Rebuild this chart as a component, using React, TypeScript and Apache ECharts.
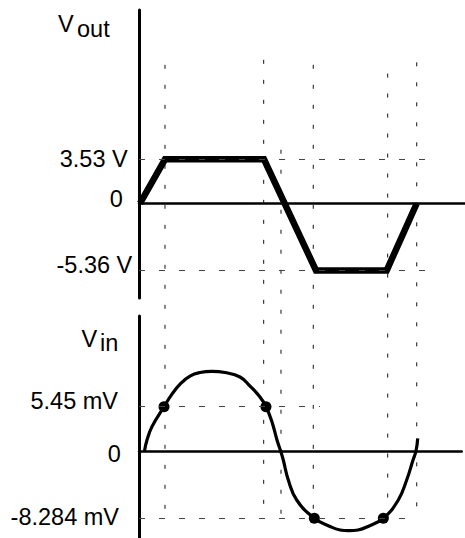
import React, { useEffect, useRef } from 'react';
import * as echarts from 'echarts';

const FONT = '"Liberation Sans", Arial, Helvetica, sans-serif';

// x axis: phase of the input signal, degrees
const phaseMin = -6.6;
const phaseMaxTop = 424.8;
const phaseMaxBottom = 420.4;

// ---- V_out panel (volts) ----
const voutRange = [-7.57, 15.49];
const voutPhase = [-5.3, 27.8, 158.8, 227.6, 321.2, 360.9];
const voutVolts = [0, 3.53, 3.53, -5.36, -5.36, 0];
const voutTicks = [3.53, 0, -5.36];
const voutTickLabels = ['3.53 V', '0', '-5.36 V'];
const voutLevels = [3.53, -5.36];
const voutLevelEnds = [387.7, 387.7];

// ---- V_in panel (mV) ----
const vinRange = [-10.71, 16.62];
const vinPhase = [
  0.7, 3.97, 10.59, 26.47, 37.05, 48.96, 60.87, 74.1, 89.98, 107.19, 127.03,
  140.27, 153.5, 161.44, 168.98, 176.0, 180.8, 184.33, 190.95, 202.06, 225.35,
  246.13, 259.36, 271.27, 283.19, 296.42, 316.66, 336.5, 347.6, 356.0, 359.93, 362.18,
];
const vinMilliVolts = [
  0, 1.35, 3.0, 5.45, 7.0, 8.35, 9.23, 9.66, 9.81, 9.66, 9.11,
  8.0, 6.65, 5.45, 3.69, 1.35, 0, -1.11, -3.57, -6.03, -8.284,
  -9.29, -9.72, -9.81, -9.72, -9.29, -8.284, -6.03, -3.57, -1.11, 0, 1.56,
];
const vinTicks = [5.45, 0, -8.284];
const vinTickLabels = ['5.45 mV', '0', '-8.284 mV'];
const vinLevels = [5.45, -8.284];
const vinLevelEnds = [232.9, 360.9];
const dotPhase = [26.5, 161.4, 225.4, 316.7];
const dotMilliVolts = [5.45, 5.45, -8.284, -8.284];

// ---- vertical guide lines (phase, top in V_out volts, bottom in V_in mV) ----
const guidePhase = [27.8, 158.4, 181.3, 224.0, 322.5, 360.9];
const guideTopVolts = [11.1, 11.5, 4.3, 11.1, 10.4, 11.3];
const guideBottomMilliVolts = [-8.284, -8.284, -8.9, -8.284, -8.284, -8.284];

const topPad = [
  [0, 5.3, 0, 0],
  [0, 10.3, 8.6, 0],
  [0, 0.7, 10.4, 0],
];
const bottomPad = [
  [0, 15, 10.8, 0],
  [6, 12.3, 0, 0],
  [0, 14, 3.2, 0],
];

function makeLabel(ticks: number[], labels: string[], pads: number[][], prefix: string) {
  const rich: Record<string, any> = {};
  pads.forEach((p, i) => {
    rich[prefix + i] = {
      fontFamily: FONT,
      fontSize: 23.5,
      color: '#000',
      padding: p,
    };
  });
  return {
    show: true,
    customValues: ticks,
    margin: 6,
    formatter: (val: number) => {
      const i = ticks.findIndex((t) => Math.abs(t - val) < 1e-6);
      return i < 0 ? '' : `{${prefix}${i}|${labels[i]}}`;
    },
    rich,
  };
}

export default function App() {
  const ref = useRef<HTMLDivElement>(null);

  useEffect(() => {
    if (!ref.current) return;
    const chart = echarts.init(ref.current, undefined, { renderer: 'svg' });

    const hDash = { type: [6, 14] as any, color: '#444', width: 1 };

    const option: any = {
      animation: false,
      backgroundColor: '#fff',
      grid: [
        { left: 139, top: 10, width: 326, height: 288 },
        { left: 139, top: 316, width: 322.7, height: 222 },
      ],
      xAxis: [0, 1].map((g) => ({
        type: 'value',
        gridIndex: g,
        min: phaseMin,
        max: g === 0 ? phaseMaxTop : phaseMaxBottom,
        axisLine: { show: true, onZero: true, lineStyle: { color: '#000', width: 2.5 } },
        axisTick: { show: false },
        axisLabel: { show: false },
        splitLine: { show: false },
      })),
      yAxis: [
        {
          type: 'value',
          gridIndex: 0,
          min: voutRange[0],
          max: voutRange[1],
          axisLine: { show: true, onZero: false, lineStyle: { color: '#000', width: 3 } },
          axisTick: { show: false },
          splitLine: { show: false },
          axisLabel: makeLabel(voutTicks, voutTickLabels, topPad, 't'),
        },
        {
          type: 'value',
          gridIndex: 1,
          min: vinRange[0],
          max: vinRange[1],
          axisLine: { show: true, onZero: false, lineStyle: { color: '#000', width: 3 } },
          axisTick: { show: false },
          splitLine: { show: false },
          axisLabel: makeLabel(vinTicks, vinTickLabels, bottomPad, 'b'),
        },
      ],
      series: [
        {
          type: 'line',
          xAxisIndex: 0,
          yAxisIndex: 0,
          data: voutPhase.map((p, i) => [p, voutVolts[i]]),
          symbol: 'none',
          lineStyle: { color: '#000', width: 6.5, join: 'miter' },
          markLine: {
            silent: true,
            symbol: ['none', 'none'],
            label: { show: false },
            lineStyle: hDash,
            data: voutLevels.map((v, i) => [
              { coord: [phaseMin, v] },
              { coord: [voutLevelEnds[i], v] },
            ]),
          },
          z: 3,
        },
        {
          type: 'line',
          xAxisIndex: 1,
          yAxisIndex: 1,
          data: vinPhase.map((p, i) => [p, vinMilliVolts[i]]),
          symbol: 'none',
          smooth: 0.45,
          lineStyle: { color: '#000', width: 3.2 },
          markLine: {
            silent: true,
            symbol: ['none', 'none'],
            label: { show: false },
            lineStyle: hDash,
            data: vinLevels.map((v, i) => [
              { coord: [phaseMin, v] },
              { coord: [vinLevelEnds[i], v] },
            ]),
          },
          z: 3,
        },
        {
          type: 'scatter',
          xAxisIndex: 1,
          yAxisIndex: 1,
          data: dotPhase.map((p, i) => [p, dotMilliVolts[i]]),
          symbol: 'circle',
          symbolSize: 11,
          itemStyle: { color: '#000', opacity: 1 },
          z: 4,
        },
      ],
    };

    chart.setOption(option);

    const elements: any[] = [];
    guidePhase.forEach((p, i) => {
      const a = chart.convertToPixel({ gridIndex: 0 } as any, [p, guideTopVolts[i]]) as number[];
      const b = chart.convertToPixel({ gridIndex: 1 } as any, [p, guideBottomMilliVolts[i]]) as number[];
      elements.push({
        type: 'line',
        silent: true,
        z: 1,
        shape: { x1: a[0], y1: a[1], x2: b[0], y2: b[1] },
        style: { stroke: '#111', lineWidth: 1, lineDash: [4, 16] },
      });
    });
    const title = (text: string, x: number, y: number) => ({
      type: 'text',
      x,
      y,
      silent: true,
      style: {
        text,
        fontFamily: FONT,
        fontSize: 23.5,
        fill: '#000',
        verticalAlign: 'middle',
        align: 'left',
      },
    });
    elements.push(title('V', 58, 23.6));
    elements.push(title('out', 77, 29.2));
    elements.push(title('V', 81.5, 338.6));
    elements.push(title('in', 100, 342.9));

    chart.setOption({ graphic: { elements } });

    return () => chart.dispose();
  }, []);

  return (
    <div
      ref={ref}
      style={{ position: 'fixed', left: 0, top: 0, width: 465, height: 538, background: '#fff' }}
    />
  );
}
